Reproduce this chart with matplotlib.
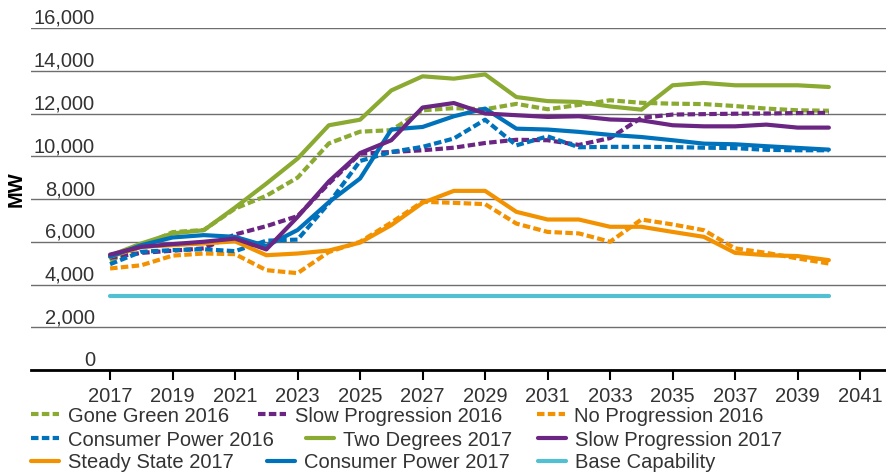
import matplotlib.pyplot as plt
from matplotlib import transforms

plt.rcParams['font.family'] = ['Liberation Sans', 'DejaVu Sans']

# Peak demand scenarios (MW)
years = list(range(2017, 2041))

gone_green_2016 = [5100, 5800, 6450, 6550, 7550, 8150, 9000, 10600, 11150, 11220, 12150, 12250,
                   12200, 12450, 12200, 12400, 12620, 12500, 12460, 12440, 12350, 12230, 12150, 12130]
slow_progression_2016 = [5250, 5480, 5580, 5690, 6340, 6730, 7200, 8720, 10120, 10200, 10280, 10400,
                         10620, 10770, 10750, 10530, 10850, 11800, 11950, 11970, 11990, 12000, 12020, 12030]
no_progression_2016 = [4750, 4900, 5350, 5450, 5420, 4670, 4530, 5520, 6000, 6900, 7870, 7820,
                       7760, 6850, 6460, 6390, 6000, 7040, 6810, 6540, 5690, 5480, 5220, 4980]
consumer_power_2016 = [4950, 5530, 5610, 5650, 5560, 6050, 6100, 7800, 9780, 10200, 10440, 10830,
                       11710, 10510, 10930, 10420, 10440, 10440, 10430, 10400, 10380, 10300, 10280, 10280]
two_degrees_2017 = [5350, 5920, 6390, 6540, 7600, 8720, 9890, 11450, 11710, 13080, 13740, 13630,
                    13830, 12770, 12580, 12540, 12330, 12180, 13320, 13430, 13320, 13320, 13320, 13240]
slow_progression_2017 = [5400, 5760, 5890, 6000, 6150, 5640, 7160, 8820, 10150, 10750, 12280, 12490,
                         12000, 11920, 11840, 11870, 11720, 11680, 11450, 11400, 11400, 11480, 11340, 11340]
steady_state_2017 = [5300, 5760, 5840, 5920, 6020, 5370, 5450, 5590, 5960, 6780, 7820, 8380,
                     8380, 7400, 7040, 7040, 6700, 6700, 6460, 6230, 5480, 5370, 5330, 5140]
consumer_power_2017 = [5300, 5840, 6200, 6310, 6230, 5800, 6550, 7850, 8960, 11250, 11370, 11870,
                       12230, 11290, 11250, 11140, 11000, 10900, 10750, 10590, 10560, 10470, 10390, 10310]
base_capability = [3470] * len(years)

GREEN = '#8AAA32'
PURPLE = '#6B2583'
ORANGE = '#F39200'
BLUE = '#0072BB'
CYAN = '#52BFD3'
TEXT = '#333333'
FS = 14.5
LW = 3.0
DASH = (0, (1.8, 0.8))

fig = plt.figure(figsize=(8.87, 4.76), dpi=100)
ax = fig.add_axes([31 / 887, 1 - 370 / 476, 1 - 31 / 887, (370 - 28) / 476])

base, = ax.plot(years, base_capability, color=CYAN, lw=LW, solid_capstyle='round', label='Base Capability')
gg16, = ax.plot(years, gone_green_2016, color=GREEN, lw=LW, linestyle=DASH, label='Gone Green 2016')
sp16, = ax.plot(years, slow_progression_2016, color=PURPLE, lw=LW, linestyle=DASH, label='Slow Progression 2016')
np16, = ax.plot(years, no_progression_2016, color=ORANGE, lw=LW, linestyle=DASH, label='No Progression 2016')
cp16, = ax.plot(years, consumer_power_2016, color=BLUE, lw=LW, linestyle=DASH, label='Consumer Power 2016')
td17, = ax.plot(years, two_degrees_2017, color=GREEN, lw=LW, solid_capstyle='round', label='Two Degrees 2017')
ss17, = ax.plot(years, steady_state_2017, color=ORANGE, lw=LW, solid_capstyle='round', label='Steady State 2017')
cp17, = ax.plot(years, consumer_power_2017, color=BLUE, lw=LW, solid_capstyle='round', label='Consumer Power 2017')
sp17, = ax.plot(years, slow_progression_2017, color=PURPLE, lw=LW, solid_capstyle='round', label='Slow Progression 2017')

ax.set_xlim(2014.47, 2041.86)
ax.set_ylim(0, 16000)
ax.set_xticks(range(2017, 2042, 2))
ax.set_yticks(range(0, 16001, 2000))
ax.set_yticklabels([])
ax.tick_params(axis='y', length=0)
ax.tick_params(axis='x', length=7, width=1.5, color='black', labelsize=FS, labelcolor=TEXT, pad=5)
ax.grid(axis='y', color='#6e6e6e', lw=1)
ax.set_axisbelow(True)
for s in ['top', 'right', 'left']:
    ax.spines[s].set_visible(False)
ax.spines['bottom'].set_linewidth(2)
ax.spines['bottom'].set_color('black')

# y labels sit on top of the gridlines
blend = transforms.blended_transform_factory(ax.transAxes, ax.transData)
trans = transforms.offset_copy(blend, fig=fig, y=4, units='dots')
for v in range(0, 16001, 2000):
    ax.text(64 / 856, v, f'{v:,}', transform=trans, ha='right', va='baseline',
            fontsize=FS, color=TEXT)

fig.text(16 / 887, 1 - 189 / 476, 'MW', rotation=90, fontweight='bold', fontsize=FS,
         ha='center', va='center', color='black')

# legend entries laid out like the original (flowing rows), pixel positions
rows = [[gg16, sp16, np16], [cp16, td17, sp17], [ss17, cp17, base]]
row_y = [416, 440, 463]
col_x = [[31, 258, 537], [31, 306, 538], [31, 267, 538]]
for hs, ry, xs in zip(rows, row_y, col_x):
    for h, x in zip(hs, xs):
        leg = fig.legend([h], [h.get_label()], loc='center left',
                         bbox_to_anchor=(x / 887, 1 - ry / 476), frameon=False, borderpad=0,
                         borderaxespad=0, handlelength=1.4, handletextpad=0.45, fontsize=FS)
        for t in leg.get_texts():
            t.set_color(TEXT)

fig.savefig('out.png', dpi=100)
